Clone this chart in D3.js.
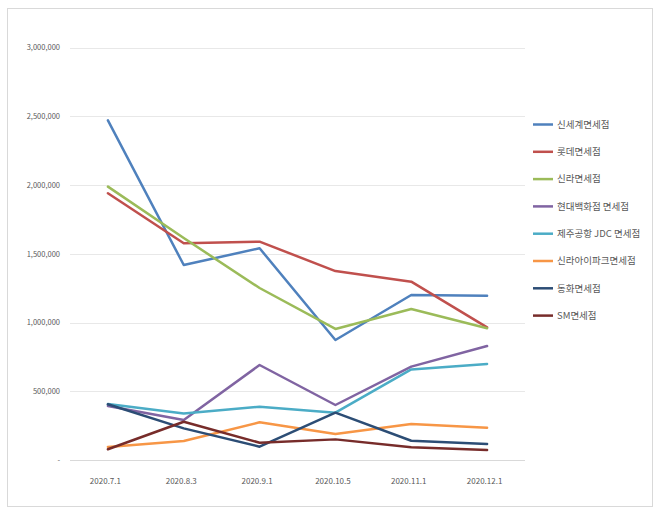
<!DOCTYPE html>
<html>
<head>
<meta charset="utf-8">
<script src="https://cdn.jsdelivr.net/npm/d3@7"></script>
<style>
  body { margin: 0; background: #fff; }
  svg { display: block; }
</style>
</head>
<body>
<svg id="chart" width="660" height="513"></svg>
<script>
// 카테고리 / 시리즈 데이터
const dates = ["2020.7.1", "2020.8.3", "2020.9.1", "2020.10.5", "2020.11.1", "2020.12.1"];
const storeNames = ["신세계면세점", "롯데면세점", "신라면세점", "현대백화점 면세점", "제주공항 JDC 면세점", "신라아이파크면세점", "동화면세점", "SM면세점"];
const shinsegae = [2470000, 1418000, 1540000, 873000, 1200000, 1195000];
const lotte     = [1940000, 1576000, 1588000, 1374000, 1297000, 965000];
const shilla    = [1988000, 1614000, 1251000, 953000, 1098000, 958000];
const hyundai   = [393000, 291000, 691000, 400000, 679000, 829000];
const jejuJdc   = [407000, 339000, 388000, 344000, 659000, 698000];
const ipark     = [95000, 138000, 274000, 189000, 262000, 235000];
const donghwa   = [405000, 230000, 97000, 344000, 140000, 116000];
const sm        = [78000, 278000, 126000, 150000, 92000, 73000];
const yTicks = [0, 500000, 1000000, 1500000, 2000000, 2500000, 3000000];

const seriesValues = [shinsegae, lotte, shilla, hyundai, jejuJdc, ipark, donghwa, sm];
const colors = ["#4F81BD", "#C0504D", "#9BBB59", "#8064A2", "#4BACC6", "#F79646", "#2C4D75", "#772C2A"];

const svg = d3.select("#chart");
const font = "'Noto Sans CJK KR', 'Noto Sans', sans-serif";

// 바깥 테두리
svg.append("rect")
    .attr("x", 7.5).attr("y", 8.5)
    .attr("width", 645).attr("height", 498)
    .attr("fill", "#fff")
    .attr("stroke", "#D9D9D9");

const x = d3.scalePoint().domain(dates).range([70, 525]).padding(0.5);
const y = d3.scaleLinear().domain([0, 3000000]).range([460, 47.5]);

// 눈금선
svg.append("g")
    .selectAll("line")
    .data(yTicks)
    .join("line")
    .attr("x1", 70).attr("x2", 525)
    .attr("y1", d => Math.round(y(d)) + 0.5)
    .attr("y2", d => Math.round(y(d)) + 0.5)
    .attr("stroke", d => d === 0 ? "#D9D9D9" : "#E8E8E8")
    .attr("stroke-width", 1);

// y축 라벨
const yAxis = d3.axisLeft(y)
    .tickValues(yTicks)
    .tickSize(0)
    .tickPadding(10)
    .tickFormat(d => d === 0 ? "-" : d3.format(",")(d));

svg.append("g")
    .attr("transform", "translate(70,0)")
    .call(yAxis)
    .call(g => g.select(".domain").remove())
    .selectAll("text")
    .attr("font-family", font)
    .attr("font-size", "7.5px")
    .attr("fill", "#595959");

// x축 라벨
const xAxis = d3.axisBottom(x).tickSize(0).tickPadding(18);
svg.append("g")
    .attr("transform", "translate(-3,460)")
    .call(xAxis)
    .call(g => g.select(".domain").remove())
    .selectAll("text")
    .attr("font-family", font)
    .attr("font-size", "8px")
    .attr("fill", "#595959");

// 선
const line = d3.line()
    .x((d, i) => x(dates[i]))
    .y(d => y(d));

svg.append("g")
    .selectAll("path")
    .data(seriesValues)
    .join("path")
    .attr("d", d => line(d))
    .attr("fill", "none")
    .attr("stroke", (d, i) => colors[i])
    .attr("stroke-width", 2.5)
    .attr("stroke-linejoin", "round")
    .attr("stroke-linecap", "round");

// 범례
const legend = svg.append("g")
    .selectAll("g")
    .data(storeNames)
    .join("g")
    .attr("transform", (d, i) => `translate(533, ${124.5 + i * 27.3})`);

legend.append("line")
    .attr("x1", 0).attr("x2", 20)
    .attr("stroke", (d, i) => colors[i])
    .attr("stroke-width", 2.5);

legend.append("text")
    .attr("x", 24)
    .attr("dy", "0.35em")
    .attr("font-family", font)
    .attr("font-size", "9.5px")
    .attr("fill", "#595959")
    .text(d => d);
</script>
</body>
</html>
